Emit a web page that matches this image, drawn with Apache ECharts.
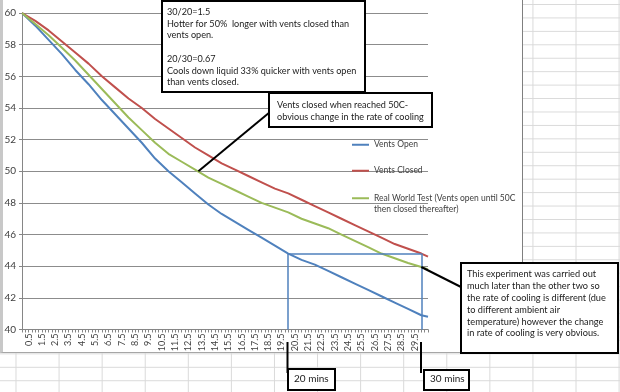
<!DOCTYPE html>
<html>
<head>
<meta charset="utf-8">
<script src="https://cdn.jsdelivr.net/npm/echarts@6/dist/echarts.min.js"></script>
<style>
  html, body { margin:0; padding:0; width:620px; height:392px; overflow:hidden; }
  body {
    background-color:#ffffff;
    background-image: linear-gradient(to right, #d9d9d9 1px, transparent 1px),
                      linear-gradient(to bottom, #d9d9d9 1px, transparent 1px);
    background-size: 43.08px 100%, 100% 13.44px;
    background-position: 15.5px 0, 0 4px;
  }
  #area { position:absolute; left:0; top:0; width:519px; height:352px; background:#fff;
          border-left:3px solid #c8c8c8; border-right:1px solid #7f7f7f; border-bottom:1px solid #a6a6a6; }
  #chart { position:absolute; left:0; top:0; width:620px; height:392px; }
</style>
</head>
<body>
<div id="area"></div>
<div id="chart"></div>
<script>
// ---- data ----
const minutes      = [0,1,2,3,4,5,6,7,8,9,10,11,12,13,14,15,16,17,18,19,20,21,22,23,24,25,26,27,28,29,30,30.5];
const ventsOpen    = [60.0,59.2,58.3,57.4,56.4,55.5,54.5,53.6,52.7,51.8,50.8,50.0,49.3,48.6,47.9,47.3,46.8,46.3,45.8,45.3,44.8,44.4,44.1,43.7,43.3,42.9,42.5,42.1,41.7,41.3,40.9,40.8];
const ventsClosed  = [60.0,59.5,58.9,58.2,57.5,56.8,56.0,55.3,54.6,54.0,53.3,52.7,52.1,51.5,51.0,50.5,50.1,49.7,49.3,48.9,48.6,48.2,47.8,47.4,47.0,46.6,46.2,45.8,45.4,45.1,44.8,44.6];
const realWorld    = [60.0,59.3,58.6,57.8,57.0,56.1,55.2,54.3,53.4,52.6,51.8,51.1,50.6,50.1,49.6,49.2,48.8,48.4,48.0,47.7,47.4,47.0,46.7,46.4,46.0,45.6,45.2,44.8,44.5,44.2,43.95,43.8];
const xTickLabels  = ['0.5','1.5','2.5','3.5','4.5','5.5','6.5','7.5','8.5','9.5','10.5','11.5','12.5','13.5','14.5','15.5','16.5','17.5','18.5','19.5','20.5','21.5','22.5','23.5','24.5','25.5','26.5','27.5','28.5','29.5'];
const seriesNames  = ['Vents Open','Vents Closed','Real World Test (Vents open until 50C then closed thereafter)'];
const closedPoint  = [13.25, 50];      // where vents were closed in the real world test
const compareTemp  = 44.8;             // temperature reached: open at 20 min, closed at 30 min
const compareTimes = [20, 30];
const realEnd      = [30, 43.95];

const FONT = 'Lato, "Liberation Sans", Arial, sans-serif';
const colors = ['#4F81BD', '#C0504D', '#9BBB59'];
const pairs = ys => minutes.map((m, i) => [m, ys[i]]);

const chart = echarts.init(document.getElementById('chart'), null, {renderer:'canvas'});

function legendCfg(name, top, formatter) {
  const cfg = {
    data:[{ name:name, icon:'rect' }], left:352, top:top, padding:0, itemWidth:17, itemHeight:2,
    selectedMode:false,
    textStyle:{ color:'#404040', fontSize:8.5, fontFamily:FONT, lineHeight:11.5 }
  };
  if (formatter) cfg.formatter = formatter;
  return cfg;
}

const option = {
  animation:false,
  backgroundColor:'transparent',
  color: colors,
  grid:{ left:22, top:13, width:406, height:316.5, containLabel:false },
  xAxis:{
    type:'value', min:0, max:30.5, interval:0.25,
    axisLine:{ show:true, lineStyle:{ color:'#868686', width:1 } },
    axisTick:{ show:true, length:3, lineStyle:{ color:'#868686' } },
    splitLine:{ show:false },
    axisLabel:{
      rotate:90, margin:4, fontSize:9, color:'#404040', fontFamily:FONT,
      formatter: v => { const s = v.toFixed(1); return xTickLabels.indexOf(s) >= 0 ? s : ''; }
    }
  },
  yAxis:{
    type:'value', min:40, max:60, interval:2,
    axisLine:{ show:true, lineStyle:{ color:'#868686', width:1 } },
    axisTick:{ show:true, length:3, lineStyle:{ color:'#868686' } },
    splitLine:{ show:true, lineStyle:{ color:'#8c8c8c', width:1 } },
    axisLabel:{ margin:6, fontSize:10, color:'#404040', fontFamily:FONT }
  },
  legend:[
    legendCfg(seriesNames[0], 139),
    legendCfg(seriesNames[1], 165),
    legendCfg(seriesNames[2], 181, () => ' \nReal World Test (Vents open until 50C\nthen closed thereafter)')
  ],
  series:[
    { name:seriesNames[0], type:'line', data:pairs(ventsOpen), symbol:'none', lineStyle:{ width:2, color:colors[0] }, z:3,
      markLine:{ silent:true, symbol:'none', animation:false, label:{show:false},
        lineStyle:{ color:colors[0], width:1.5, type:'solid' },
        data:[
          [{coord:[compareTimes[0], compareTemp]}, {coord:[compareTimes[1], compareTemp]}],
          [{coord:[compareTimes[0], 40]}, {coord:[compareTimes[0], compareTemp]}],
          [{coord:[compareTimes[1], 40]}, {coord:[compareTimes[1], compareTemp]}]
        ] } },
    { name:seriesNames[1], type:'line', data:pairs(ventsClosed), symbol:'none', lineStyle:{ width:2, color:colors[1] }, z:3 },
    { name:seriesNames[2], type:'line', data:pairs(realWorld), symbol:'none', lineStyle:{ width:2, color:colors[2] }, z:3,
      markLine:{ silent:true, symbol:'none', animation:false, label:{show:false},
        lineStyle:{ color:'#000', width:2, type:'solid' },
        data:[
          [{coord:closedPoint}, {x:270, y:112}],
          [{coord:realEnd}, {x:461, y:287}]
        ] } }
  ],
  graphic:[
    // top text box
    { type:'rect', z:100, shape:{ x:162, y:1, width:203, height:91 }, style:{ fill:'#fff', stroke:'#000', lineWidth:2 } },
    { type:'text', z:101, x:167, y:6, scaleX:0.91, style:{ text:'30/20=1.5\nHotter for 50%  longer with vents closed than\nvents open.\n\n20/30=0.67\nCools down liquid 33% quicker with vents open\nthan vents closed.',
        fill:'#1a1a1a', font:'10px ' + FONT, lineHeight:11.7 } },
    // middle callout
    { type:'rect', z:100, shape:{ x:269, y:93, width:163, height:34 }, style:{ fill:'#fff', stroke:'#000', lineWidth:2 } },
    { type:'text', z:101, x:277, y:99, scaleX:0.91, style:{ text:'Vents closed when reached 50C-\nobvious change in the rate of cooling',
        fill:'#1a1a1a', font:'10px ' + FONT, lineHeight:11.7 } },
    // bottom-right callout
    { type:'rect', z:100, shape:{ x:461, y:263, width:157, height:90 }, style:{ fill:'#fff', stroke:'#000', lineWidth:2 } },
    { type:'text', z:101, x:467, y:268, scaleX:0.92, style:{ text:'This experiment was carried out\nmuch later than the other two so\nthe rate of cooling is different (due\nto different ambient air\ntemperature) however the change\nin rate of cooling is very obvious.',
        fill:'#1a1a1a', font:'10px ' + FONT, lineHeight:11.86 } },
    // minute markers below the axis
    { type:'line', z:100, shape:{ x1:287.5, y1:342, x2:287.5, y2:373 }, style:{ stroke:'#000', lineWidth:2 } },
    { type:'line', z:100, shape:{ x1:421, y1:342, x2:421, y2:373 }, style:{ stroke:'#000', lineWidth:2 } },
    { type:'rect', z:100, shape:{ x:288, y:369, width:47, height:21 }, style:{ fill:'#fff', stroke:'#000', lineWidth:2 } },
    { type:'text', z:101, x:294, y:374, style:{ text:'20 mins', fill:'#1a1a1a', font:'10px ' + FONT } },
    { type:'rect', z:100, shape:{ x:424, y:370, width:45, height:20 }, style:{ fill:'#fff', stroke:'#000', lineWidth:2 } },
    { type:'text', z:101, x:430, y:374, style:{ text:'30 mins', fill:'#1a1a1a', font:'10px ' + FONT } }
  ]
};
chart.setOption(option);
</script>
</body>
</html>
